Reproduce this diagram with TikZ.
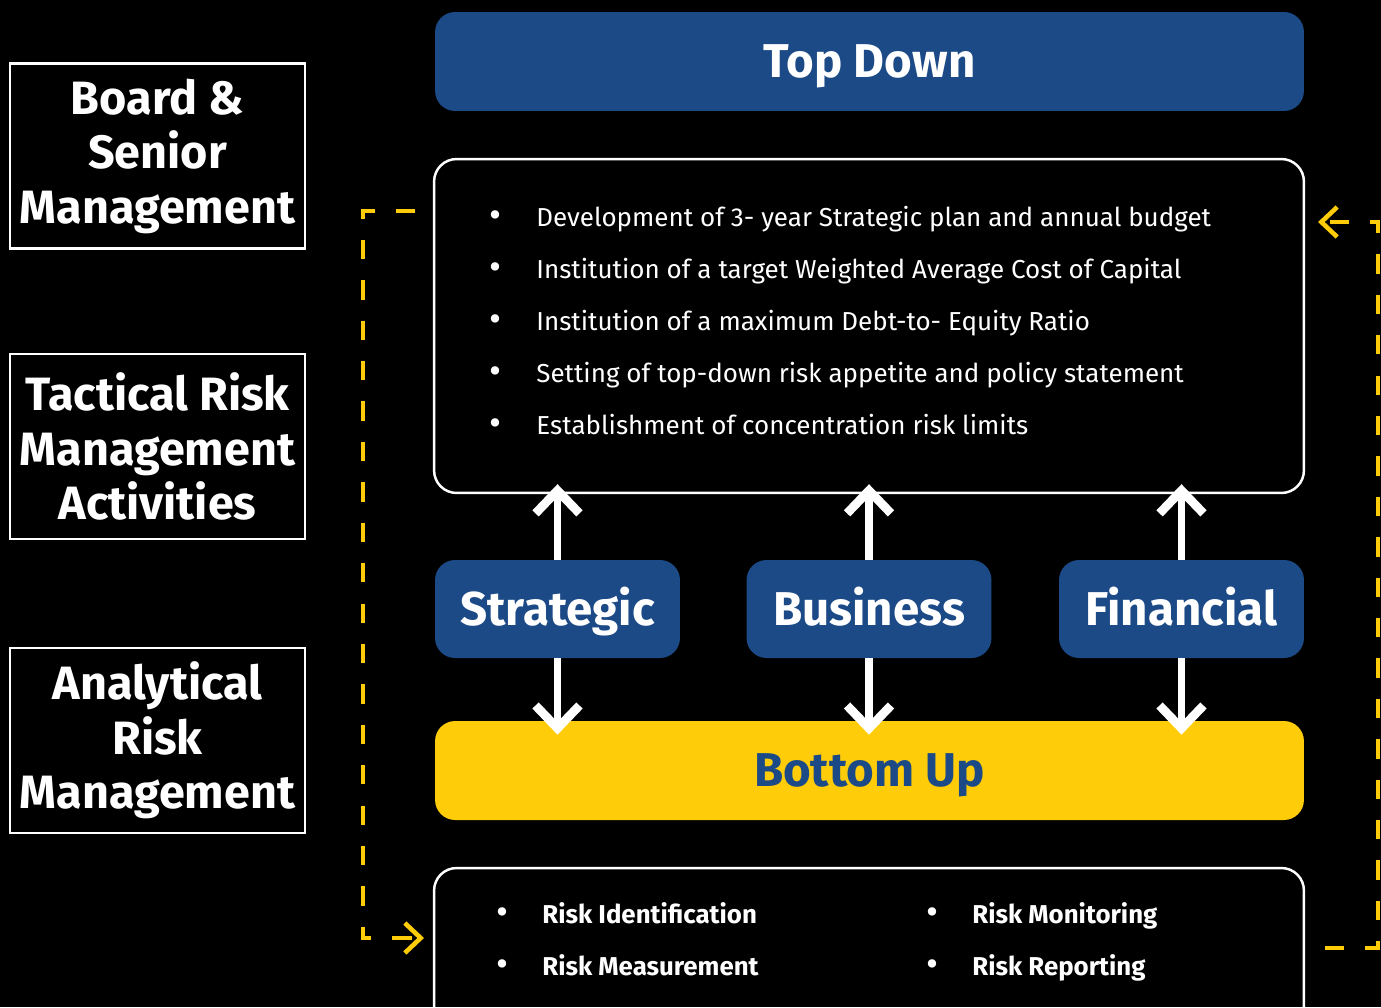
\documentclass[tikz,border=0pt]{standalone}
\usepackage{fontspec}
\setmainfont{Fira Sans}
\usetikzlibrary{arrows.meta}
\definecolor{navy}{RGB}{27,74,134}
\definecolor{gold}{RGB}{254,204,8}

\begin{document}
\begin{tikzpicture}
  [x=0.02cm,y=-0.02cm,
   tierbox/.style={draw=white,line width=1.4pt,fill=black,text=white,align=center,inner sep=0pt,
     minimum width=5.9cm,minimum height=3.7cm,font=\fontsize{26.6}{31}\selectfont\bfseries},
   banner/.style={fill=navy,rounded corners=0.4cm,text=white,inner sep=0pt,
     text height=18.6pt,text depth=0pt,
     minimum width=17.38cm,minimum height=1.98cm,font=\fontsize{27}{32}\selectfont\bfseries},
   tab/.style={fill=navy,rounded corners=0.4cm,text=white,inner sep=0pt,
     text height=18.6pt,text depth=0pt,
     minimum width=4.9cm,minimum height=1.96cm,font=\fontsize{27}{32}\selectfont\bfseries},
   panel/.style={draw=white,line width=1.4pt,rounded corners=0.45cm,inner sep=0pt,minimum width=17.4cm},
   item/.style={anchor=base west,text=white,inner sep=0pt,font=\fontsize{14.8}{17}\selectfont},
   dot/.style={anchor=base,text=white,inner sep=0pt,font=\fontsize{21}{17}\selectfont},
   flow/.style={draw=white,line width=4.3pt,-{Straight Barb[length=13pt,width=25pt,line width=5pt]}},
   feedback/.style={draw=gold,line width=2.6pt,dash pattern=on 11pt off 12pt,
     -{Straight Barb[length=9pt,width=17pt]}}]
  \fill[black] (0,0) rectangle (1381,1007);
  \useasboundingbox (0,0) rectangle (1381,1007);

  % levels on the left
  \node[tierbox] (board) at (157.5,156) {Board \&\\Senior\\Management};
  \node[tierbox] (tactical) at (157.5,446.5) {Tactical Risk\\Management\\Activities};
  \node[tierbox] (analytical) at (157.5,740.5) {Analytical\\Risk\\Management};

  % main column
  \node[banner] (topdown) at (869.5,61.5) {Top Down};
  \node[panel,minimum height=6.68cm] (policy) at (869,326) {};
  \node[tab] (strategic) at (557.5,609) {Strategic};
  \node[tab] (business) at (869,609) {Business};
  \node[tab] (financial) at (1181.5,609) {Financial};
  \node[banner,fill=gold,text=navy] (bottomup) at (869.5,770.5) {Bottom Up};
  \node[panel,minimum height=3.24cm] (process) at (869,949) {};

  \foreach \txt [count=\i] in {Development of 3- year Strategic plan and annual budget,
      Institution of a target Weighted Average Cost of Capital,
      Institution of a maximum Debt-to- Equity Ratio,
      Setting of top-down risk appetite and policy statement,
      Establishment of concentration risk limits}
  {
    \node[dot] (pb\i) at (495,175+52*\i) {\textbullet};
    \node[item] (pi\i) at (536,174+52*\i) {\txt};
  }

  \foreach \txt/\x/\y [count=\i] in {Risk Identification/542/923,Risk Measurement/542/975,
      Risk Monitoring/972/923,Risk Reporting/972/975}
  {
    \node[dot] (rb\i) at (\x-40,\y+1) {\textbullet};
    \node[item,font=\fontsize{14.7}{18}\selectfont\bfseries] (ri\i) at (\x,\y) {\txt};
  }

  % arrows
  \foreach \n in {strategic,business,financial}
  {
    \draw[flow,shorten >=-0.2cm] (\n.north) -- (\n.north |- policy.south);
    \draw[flow,shorten >=-0.28cm] (\n.south) -- (\n.south |- bottomup.north);
  }

  % feedback loops
  \coordinate (fromtop) at (415,211);
  \coordinate (intobottom) at (424,938);
  \coordinate (frombottom) at (1325,948);
  \coordinate (intotop) at (1318,222);
  \draw[feedback] (fromtop) -| (363,938) -- (intobottom);
  \draw[feedback] (frombottom) -| (1378,222) -- (intotop);
\end{tikzpicture}
\end{document}
